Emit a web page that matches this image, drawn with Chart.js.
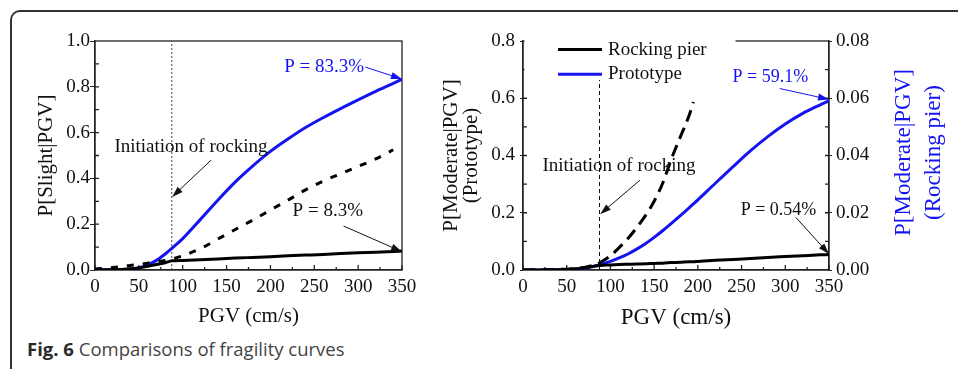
<!DOCTYPE html>
<html>
<head>
<meta charset="utf-8">
<script src="https://cdn.jsdelivr.net/npm/chart.js@4.4.1/dist/chart.umd.min.js"></script>
<style>
  body { margin: 0; background: #fff; width: 958px; height: 369px; overflow: hidden; position: relative; }
  #frame { position: absolute; left: 10px; top: 10px; width: 980px; height: 400px;
           border-top: 2px solid #333; border-left: 2px solid #333; border-top-left-radius: 10px; }
  #left { position: absolute; left: 0; top: 0; }
  #right { position: absolute; left: 430px; top: 0; }
  #caption { position: absolute; left: 27px; top: 336px; font-family: 'Open Sans'; font-size: 18.5px; color: #444; white-space: nowrap; }
  #caption b { color: #2a2a2a; }
</style>
</head>
<body>
<div id="frame"></div>
<canvas id="left" width="470" height="330"></canvas>
<canvas id="right" width="528" height="330"></canvas>
<div id="caption"><b>Fig. 6</b> Comparisons of fragility curves</div>
<script>
// PGV at which the pier starts rocking (cm/s)
const rockingPGV = 87.5;

// left panel: P[Slight|PGV]
const pgvSlight = [0, 10, 20, 30, 40, 50, 60, 70, 80, 88, 100, 120, 140, 160, 180, 200, 220, 240, 260, 280, 300, 320, 340, 350];
const slightPrototype = [0, 0, 0.001, 0.002, 0.004, 0.009, 0.022, 0.042, 0.07, 0.096, 0.137, 0.22, 0.305, 0.385, 0.455, 0.518, 0.572, 0.622, 0.665, 0.705, 0.743, 0.78, 0.815, 0.833];
const slightRocking = [0.001, 0.001, 0.001, 0.002, 0.005, 0.009, 0.016, 0.024, 0.032, 0.04, 0.042, 0.045, 0.048, 0.052, 0.055, 0.058, 0.062, 0.065, 0.068, 0.072, 0.075, 0.078, 0.081, 0.083];
const slightDashed = [0.004, 0.007, 0.011, 0.015, 0.02, 0.024, 0.03, 0.036, 0.042, 0.048, 0.062, 0.093, 0.135, 0.177, 0.218, 0.262, 0.305, 0.35, 0.388, 0.42, 0.452, 0.485, 0.525, null];

// right panel: P[Moderate|PGV]
const pgvModerate = [0, 20, 40, 50, 60, 70, 80, 88, 100, 110, 120, 130, 140, 150, 160, 170, 180, 190, 195, 200, 220, 240, 260, 280, 300, 320, 340, 350];
const moderatePrototype = [0, 0, 0.0005, 0.001, 0.003, 0.007, 0.012, 0.019, 0.03, 0.042, 0.056, 0.073, 0.092, 0.114, 0.138, 0.164, 0.19, 0.217, 0.231, 0.245, 0.303, 0.36, 0.416, 0.466, 0.51, 0.547, 0.577, 0.591];
const moderateDashed = [0, 0.001, 0.002, 0.003, 0.005, 0.009, 0.016, 0.026, 0.05, 0.078, 0.11, 0.148, 0.19, 0.24, 0.305, 0.39, 0.465, 0.54, 0.587, null, null, null, null, null, null, null, null, null];
// rocking pier, read on the right axis
const moderateRocking = [0, 0, 0.0001, 0.0002, 0.0004, 0.0008, 0.0012, 0.0016, 0.00175, 0.0019, 0.002, 0.0021, 0.00215, 0.0023, 0.0024, 0.0026, 0.0027, 0.0029, 0.0029, 0.003, 0.0034, 0.0037, 0.004, 0.0044, 0.0047, 0.005, 0.0053, 0.0054];

const legendLabels = ['Rocking pier', 'Prototype'];

const blue = '#1414f0';
const black = '#000';
const axisColor = '#222';
const serif = 'Liberation Serif';

Chart.defaults.font.family = serif;
Chart.defaults.color = '#111';

function curve(xs, ys, color, dash, axis) {
  return {
    data: xs.map((x, i) => ({ x: x, y: ys[i] })),
    borderColor: color, borderWidth: 3, borderDash: dash || [],
    pointRadius: 0, cubicInterpolationMode: 'monotone',
    yAxisID: axis || 'y'
  };
}

function rockLine(top, color, dash) {
  return {
    data: [{ x: rockingPGV, y: 0 }, { x: rockingPGV, y: top }],
    borderColor: color, borderWidth: 1, borderDash: dash, pointRadius: 0
  };
}

function arrow(ctx, x1, y1, x2, y2, color) {
  const a = Math.atan2(y2 - y1, x2 - x1), L = 11, W = 3.5;
  const c = Math.cos(a), s = Math.sin(a);
  ctx.strokeStyle = color; ctx.fillStyle = color; ctx.lineWidth = 1;
  ctx.beginPath(); ctx.moveTo(x1, y1); ctx.lineTo(x2 - L * 0.7 * c, y2 - L * 0.7 * s); ctx.stroke();
  ctx.beginPath(); ctx.moveTo(x2, y2);
  ctx.lineTo(x2 - L * c + W * s, y2 - L * s - W * c);
  ctx.lineTo(x2 - L * c - W * s, y2 - L * s + W * c);
  ctx.closePath(); ctx.fill();
}

// frame, inner ticks, notes, arrows and the small legend
const decor = {
  id: 'decor',
  beforeDatasetsDraw(chart, args, o) {
    const { ctx, chartArea: a } = chart;
    const xs = chart.scales.x, ys = chart.scales.y, y1 = chart.scales.y1;
    ctx.save();
    ctx.strokeStyle = axisColor; ctx.lineWidth = 1.3;
    ctx.strokeRect(a.left, a.top, a.right - a.left, a.bottom - a.top);
    ctx.beginPath();
    for (let v = 0; v <= 350; v += 25) {
      const px = xs.getPixelForValue(v);
      ctx.moveTo(px, a.bottom); ctx.lineTo(px, a.bottom - (v % 50 ? 3 : 5));
    }
    for (let i = 1; i < o.yMinorCount; i++) {
      const py = ys.getPixelForValue(ys.max * i / o.yMinorCount);
      ctx.moveTo(a.left, py); ctx.lineTo(a.left + 4, py);
    }
    if (y1) {
      for (let i = 1; i < 8; i++) {
        const py = y1.getPixelForValue(y1.max * i / 8);
        ctx.moveTo(a.right, py); ctx.lineTo(a.right - 4, py);
      }
    }
    ctx.stroke();
    ctx.restore();
  },
  afterDatasetsDraw(chart, args, o) {
    const { ctx, chartArea: a } = chart;
    const xs = chart.scales.x, ys = chart.scales.y;
    ctx.save();
    if (o.legend) {
      ctx.fillStyle = '#fff';
      ctx.fillRect(a.left + 1.5, a.top - 2, 211, 41);
      ctx.font = '19px ' + serif;
      ctx.textBaseline = 'middle'; ctx.textAlign = 'left';
      legendLabels.forEach((lab, i) => {
        const ds = chart.data.datasets.find(d => d.label === lab);
        const y = a.top + 8.6 + i * 24.7;
        ctx.strokeStyle = ds.borderColor; ctx.lineWidth = 3;
        ctx.beginPath(); ctx.moveTo(a.left + 35, y); ctx.lineTo(a.left + 79, y); ctx.stroke();
        ctx.fillStyle = '#111';
        ctx.fillText(lab, a.left + 85, y);
      });
    }
    ctx.textAlign = 'center'; ctx.textBaseline = 'middle';
    (o.notes || []).forEach(n => {
      ctx.font = (n.size || 19) + 'px ' + serif;
      ctx.fillStyle = n.color || '#111';
      ctx.fillText(n.text, xs.getPixelForValue(n.x), ys.getPixelForValue(n.y));
    });
    (o.arrows || []).forEach(r => {
      arrow(ctx, xs.getPixelForValue(r[0]), ys.getPixelForValue(r[1]),
        xs.getPixelForValue(r[2]), ys.getPixelForValue(r[3]), r[4] || '#111');
    });
    ctx.restore();
  },
  afterDraw(chart, args, o) {
    if (!o.rightTitle) return;
    const { ctx, chartArea: a } = chart;
    const y1 = chart.scales.y1;
    ctx.save();
    ctx.font = '23px ' + serif;
    ctx.fillStyle = blue; ctx.textAlign = 'center'; ctx.textBaseline = 'middle';
    o.rightTitle.forEach((t, i) => {
      ctx.save();
      ctx.translate(y1.left + 75 + i * 30, (a.top + a.bottom) / 2 - 3);
      ctx.rotate(-Math.PI / 2);
      ctx.fillText(t, 0, 0);
      ctx.restore();
    });
    ctx.restore();
  }
};

const xAxis = (titleSize, titlePad) => ({
  type: 'linear', min: 0, max: 350,
  ticks: { stepSize: 50, font: { size: 19 }, padding: -2, color: '#111' },
  grid: { display: false },
  border: { color: axisColor, width: 1.3 },
  title: { display: true, text: 'PGV (cm/s)', color: '#111', font: { size: titleSize }, padding: { top: 0, bottom: titlePad } },
  afterFit(s) { s.height = 60; }
});

new Chart(document.getElementById('left'), {
  type: 'line',
  data: {
    datasets: [
      Object.assign(curve(pgvSlight, slightDashed, black, [7, 9]), { label: 'dashed' }),
      Object.assign(curve(pgvSlight, slightRocking, black), { label: 'Rocking pier' }),
      Object.assign(curve(pgvSlight, slightPrototype, blue), { label: 'Prototype' }),
      rockLine(1, '#444', [2, 2])
    ]
  },
  options: {
    responsive: false, animation: false, devicePixelRatio: 1,
    layout: { padding: { top: 41, right: 68, left: 0, bottom: 0 } },
    plugins: {
      legend: { display: false }, tooltip: { enabled: false },
      decor: {
        yMinorCount: 10,
        notes: [
          { text: 'Initiation of rocking', x: 109.4, y: 0.538 },
          { text: 'P = 83.3%', x: 261.2, y: 0.888, color: blue },
          { text: 'P = 8.3%', x: 265.4, y: 0.259 }
        ],
        arrows: [
          [132.4, 0.48, 87.9, 0.319],
          [308.2, 0.886, 350, 0.834, blue],
          [283.4, 0.192, 350, 0.08]
        ]
      }
    },
    scales: {
      x: xAxis(21, 1),
      y: {
        min: 0, max: 1,
        ticks: { stepSize: 0.2, callback: v => v.toFixed(1), font: { size: 19 }, padding: 0, color: '#111' },
        grid: { drawOnChartArea: false, tickLength: 5, color: axisColor },
        border: { color: axisColor, width: 1.3 },
        title: { display: true, text: 'P[Slight|PGV]', color: '#111', font: { size: 21 }, padding: { top: 34, bottom: 0 } },
        afterFit(s) { s.width = 95; }
      }
    }
  },
  plugins: [decor]
});

new Chart(document.getElementById('right'), {
  type: 'line',
  data: {
    datasets: [
      Object.assign(curve(pgvModerate, moderateDashed, black, [12, 7]), { label: 'dashed' }),
      Object.assign(curve(pgvModerate, moderateRocking, black, null, 'y1'), { label: 'Rocking pier' }),
      Object.assign(curve(pgvModerate, moderatePrototype, blue), { label: 'Prototype' }),
      rockLine(0.8, '#111', [4, 3])
    ]
  },
  options: {
    responsive: false, animation: false, devicePixelRatio: 1,
    layout: { padding: { top: 41, right: 0, left: 0, bottom: 0 } },
    plugins: {
      legend: { display: false }, tooltip: { enabled: false },
      decor: {
        yMinorCount: 8,
        legend: true,
        rightTitle: ['P[Moderate|PGV]', '(Rocking pier)'],
        notes: [
          { text: 'Initiation of rocking', x: 109.7, y: 0.364 },
          { text: 'P = 59.1%', x: 282.9, y: 0.672, color: blue, size: 18 },
          { text: 'P = 0.54%', x: 292.2, y: 0.207, size: 18 }
        ],
        arrows: [
          [133.9, 0.314, 88.2, 0.195],
          [293.6, 0.634, 350, 0.596, blue],
          [312, 0.184, 350, 0.056]
        ]
      }
    },
    scales: {
      x: xAxis(23, -1.5),
      y: {
        position: 'left', min: 0, max: 0.8,
        ticks: { stepSize: 0.2, callback: v => v.toFixed(1), font: { size: 19 }, padding: 5, color: '#111' },
        grid: { drawOnChartArea: false, tickLength: 3, color: axisColor },
        border: { color: axisColor, width: 1.3 },
        title: { display: true, text: ['P[Moderate|PGV]', '(Prototype)'], color: '#111', font: { size: 21, lineHeight: 0.95 }, padding: { top: 12, bottom: 0 } },
        afterFit(s) { s.width = 93; }
      },
      y1: {
        position: 'right', min: 0, max: 0.08,
        ticks: { stepSize: 0.02, callback: v => v.toFixed(2), font: { size: 19 }, padding: 4, color: '#111' },
        grid: { drawOnChartArea: false, tickLength: 3, color: axisColor },
        border: { color: axisColor, width: 1.3 },
        afterFit(s) { s.width = 129; }
      }
    }
  },
  plugins: [decor]
});
</script>
</body>
</html>
